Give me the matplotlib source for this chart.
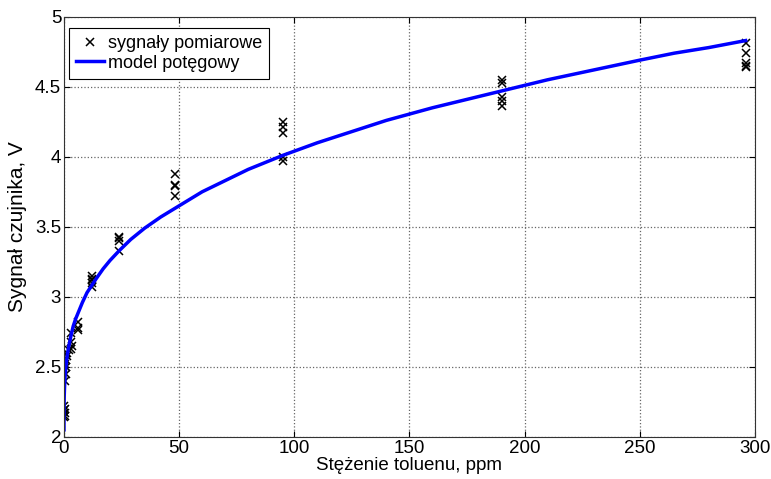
import numpy as np
import matplotlib.pyplot as plt

plt.rcParams['font.family'] = ['Liberation Sans', 'DejaVu Sans']

# measured sensor signals (x = toluene conc. ppm, y = signal V)
meas_x = [0, 0, 0.3, 0.5, 0, 0.5,
          0.5, 1, 1, 0.5, 1, 1.5, 1.5, 2,
          3, 3, 3.5, 3,
          6, 6, 6,
          12, 12, 12, 12, 12,
          24, 24, 24, 24,
          48, 48, 48, 48,
          95, 95, 95, 95, 95,
          190, 190, 190, 190, 190,
          296, 296, 296, 296, 296]
meas_y = [2.22, 2.19, 2.17, 2.15, 2.14, 2.20,
          2.40, 2.45, 2.50, 2.52, 2.55, 2.58, 2.60, 2.62,
          2.74, 2.68, 2.65, 2.63,
          2.82, 2.78, 2.76,
          3.15, 3.13, 3.12, 3.10, 3.07,
          3.43, 3.42, 3.40, 3.33,
          3.88, 3.80, 3.79, 3.72,
          4.25, 4.21, 4.17, 4.00, 3.97,
          4.55, 4.53, 4.43, 4.40, 4.36,
          4.81, 4.74, 4.67, 4.65, 4.64]

# power model curve
model_x = [0, 0.001, 0.01, 0.05, 0.1, 0.2, 0.3, 0.5, 0.7, 1, 1.5, 2, 3, 4, 5,
           6.5, 8, 10, 12, 14, 17, 20, 24, 29, 35, 42, 50, 60, 70, 80, 95,
           110, 125, 140, 160, 175, 190, 210, 230, 250, 265, 280, 296]
model_y = [2.05, 2.11, 2.17, 2.24, 2.29, 2.34, 2.38, 2.44, 2.48, 2.53, 2.59,
           2.64, 2.72, 2.79, 2.84, 2.90, 2.96, 3.03, 3.08, 3.13, 3.20, 3.26,
           3.33, 3.41, 3.49, 3.57, 3.65, 3.75, 3.83, 3.91, 4.01, 4.10, 4.18,
           4.26, 4.35, 4.41, 4.47, 4.55, 4.62, 4.69, 4.74, 4.78, 4.83]

xticks = [0, 50, 100, 150, 200, 250, 300]
yticks = [2, 2.5, 3, 3.5, 4, 4.5, 5]
ytick_labels = ['2', '2.5', '3', '3.5', '4', '4.5', '5']

fig = plt.figure(figsize=(7.71, 4.79), dpi=100)
ax = fig.add_axes([0.083, 0.088, 0.896, 0.877])

ax.plot(meas_x, meas_y, 'x', color='black', markersize=6, markeredgewidth=1.1,
        label='sygnały pomiarowe')
ax.plot(model_x, model_y, '-', color='#0000ff', linewidth=2.5, label='model potęgowy')

ax.set_xlim(0, 300)
ax.set_ylim(2, 5)
ax.set_xticks(xticks)
ax.set_yticks(yticks)
ax.set_yticklabels(ytick_labels)
ax.tick_params(direction='in', length=4, labelsize=13.5, pad=2)
ax.tick_params(top=True, right=True)
ax.grid(True, linestyle=':', color='#666666', linewidth=0.9)
for s in ax.spines.values():
    s.set_color('#333333')

ax.set_xlabel('Stężenie toluenu, ppm', fontsize=13.5, labelpad=0)
ax.set_ylabel('Sygnał czujnika, V', fontsize=15, labelpad=6)

leg = ax.legend(loc='upper left', bbox_to_anchor=(0.007, 0.974), fontsize=13,
                fancybox=False, framealpha=1, edgecolor='black', borderaxespad=0,
                handlelength=1.55, borderpad=0.4, labelspacing=0.15,
                handletextpad=0.2)
leg.get_frame().set_linewidth(0.8)

fig.savefig('out.png', dpi=100)
